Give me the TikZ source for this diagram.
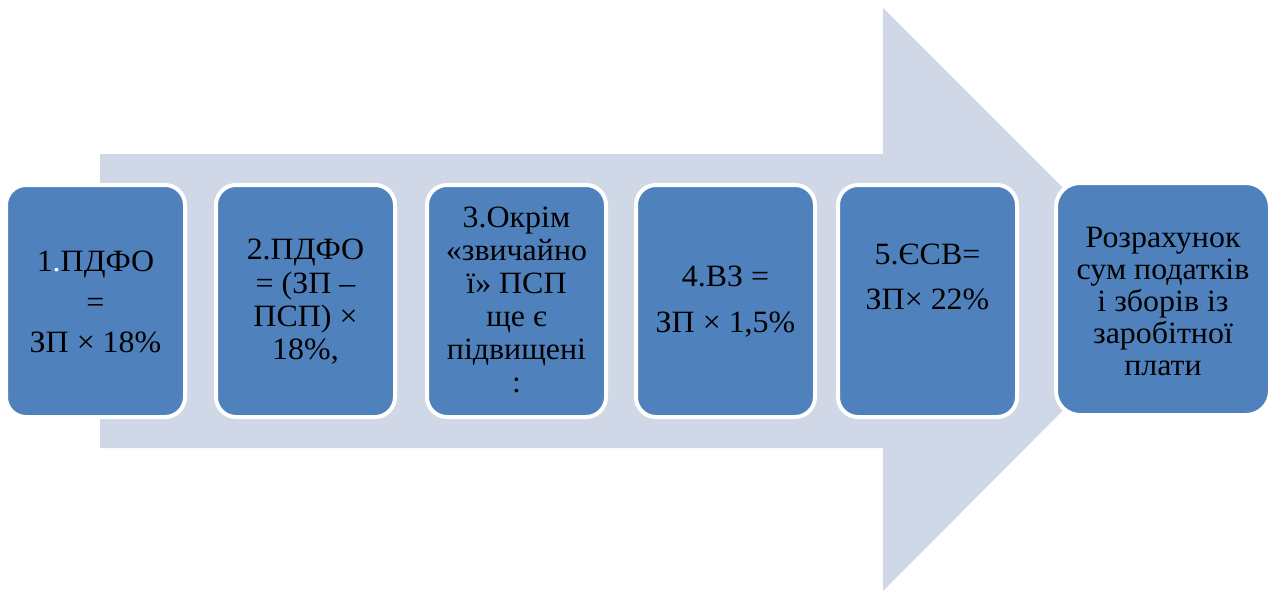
\documentclass[tikz,border=0pt]{standalone}
\usepackage{fontspec}
\setmainfont{Liberation Serif}[FakeStretch=1.03]
\definecolor{boxblue}{HTML}{4F81BD}
\definecolor{arrowgray}{HTML}{D0D8E8}
\tikzset{
  stepbox/.style={rectangle, rounded corners=20pt, draw=white, line width=4pt, fill=boxblue, inner sep=0pt, minimum width=179pt, minimum height=232pt},
  steptext/.style={anchor=north, inner sep=0pt, align=center, text=black}
}
\begin{document}
\begin{tikzpicture}[x=1pt,y=-1pt]
\useasboundingbox (0,0) rectangle (1274,591);
% big arrow
\fill[arrowgray] (100,154) -- (883,154) -- (883,8) -- (1174,299) -- (883,591) -- (883,448) -- (100,448) -- cycle;
% boxes
\node[stepbox] (b1) at (95.5,301) {};
\node[stepbox] (b2) at (305.5,301) {};
\node[stepbox] (b3) at (516.5,301) {};
\node[stepbox] (b4) at (725.5,301) {};
\node[stepbox] (b5) at (927.5,301) {};
\node[stepbox, minimum width=214pt, rounded corners=24pt] (b6) at (1163,299) {};
% texts
\node[steptext, font=\fontsize{31}{40.5}\selectfont] (t1) at (95.5,251) {1\textcolor{white}{.}ПДФО\\=\\ЗП × 18\%};
\node[steptext, font=\fontsize{31}{33.3}\selectfont] (t2) at (305.5,239) {2.ПДФО\\= (ЗП –\\ПСП) ×\\18\%,};
\node[steptext, font=\fontsize{31}{33}\selectfont] (t3) at (516.5,207) {3.Окрім\\«звичайно\\ї» ПСП\\ще є\\підвищені\\:};
\node[steptext, font=\fontsize{31}{46}\selectfont] (t4) at (725.5,266) {4.ВЗ =\\ЗП × 1,5\%};
\node[steptext, font=\fontsize{31}{45}\selectfont] (t5) at (927.5,244) {5.ЄСВ=\\ЗП× 22\%};
\node[steptext, font=\fontsize{31}{32}\selectfont] (t6) at (1163,226.5) {Розрахунок\\сум податків\\і зборів із\\заробітної\\плати};
\end{tikzpicture}
\end{document}
